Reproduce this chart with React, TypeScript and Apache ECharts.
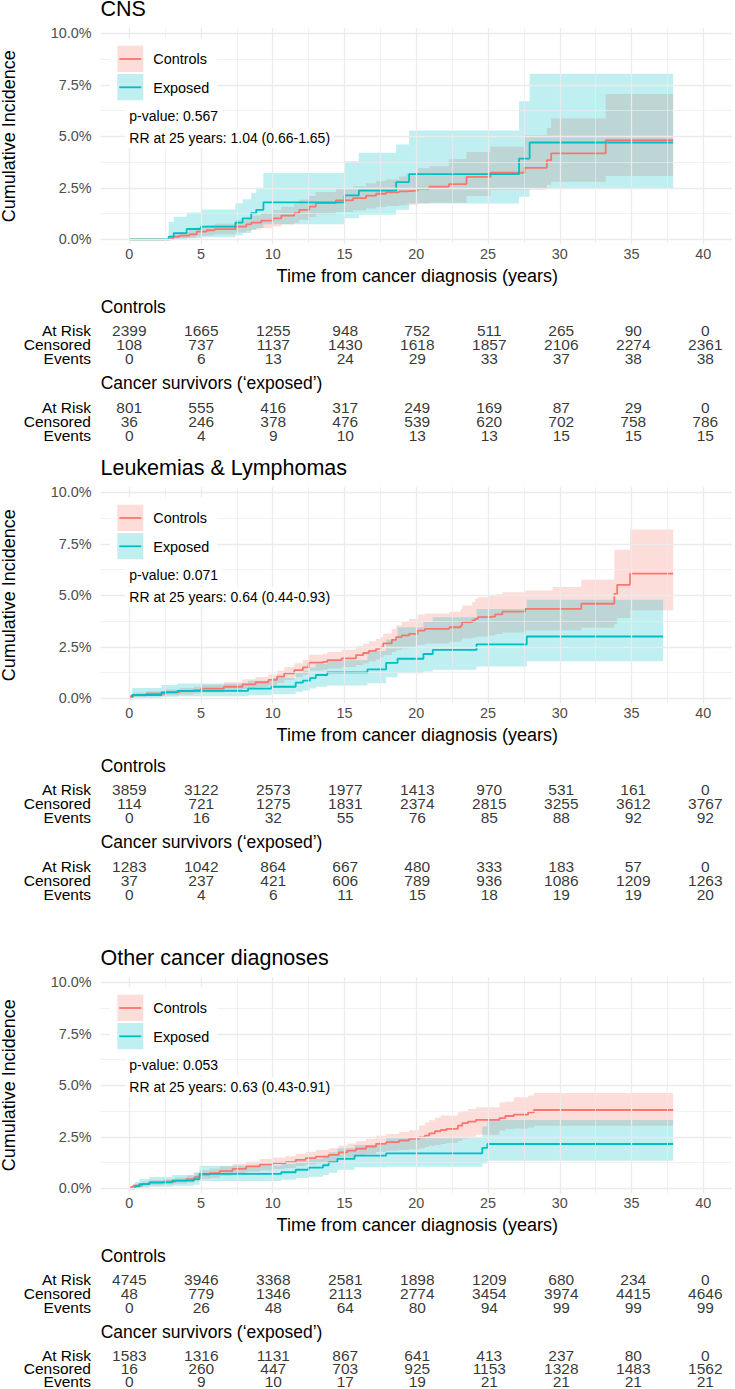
import { useEffect, useRef } from 'react';
import * as echarts from 'echarts';

// ---------- axes ----------
const timeTicks = [0, 5, 10, 15, 20, 25, 30, 35, 40];
const timeMinor = [2.5, 7.5, 12.5, 17.5, 22.5, 27.5, 32.5, 37.5];
const pctTicks = [0, 2.5, 5, 7.5, 10];
const pctMinor = [1.25, 3.75, 6.25, 8.75];
const riskRows = ['At Risk', 'Censored', 'Events'];
const riskTimes = [0, 5, 10, 15, 20, 25, 30, 35, 40];

// ---------- CNS ----------
const cnsCtrlTime = [0, 2.9, 3.1, 3.5, 4.2, 4.7, 5.4, 5.95, 7.4, 8.15, 8.5, 9.2, 10.0, 10.6, 11.5, 11.85, 12.55, 13.0, 14.4, 15.6, 16.5, 17.2, 17.9, 18.8, 19.3, 20.1, 20.9, 22.27, 23.5, 25.17, 27.55, 29.1, 29.4, 33.2, 37.9];
const cnsCtrlEst = [0, 0.06, 0.13, 0.18, 0.24, 0.37, 0.44, 0.49, 0.62, 0.72, 0.81, 0.91, 1.02, 1.15, 1.27, 1.43, 1.59, 1.76, 1.89, 2.0, 2.12, 2.21, 2.28, 2.33, 2.36, 2.45, 2.55, 2.68, 3.03, 3.23, 3.47, 3.84, 4.17, 4.81, 4.81];
const cnsCtrlLow = [0, 0, 0.02, 0.05, 0.08, 0.16, 0.2, 0.24, 0.33, 0.4, 0.47, 0.54, 0.62, 0.72, 0.82, 0.95, 1.08, 1.22, 1.32, 1.41, 1.5, 1.57, 1.62, 1.65, 1.68, 1.74, 1.77, 1.77, 2.1, 2.39, 2.4, 2.65, 2.79, 3.07, 3.07];
const cnsCtrlHigh = [0, 0.15, 0.3, 0.36, 0.44, 0.6, 0.68, 0.75, 0.92, 1.04, 1.15, 1.28, 1.42, 1.58, 1.72, 1.92, 2.1, 2.3, 2.45, 2.58, 2.72, 2.83, 2.9, 3.05, 3.2, 3.45, 3.55, 3.9, 4.24, 4.49, 5.05, 5.4, 5.86, 7.05, 7.05];

const cnsExpTime = [0, 2.75, 3.1, 4.0, 5.0, 7.4, 7.9, 8.5, 8.85, 9.35, 15.0, 16.0, 18.6, 19.5, 27.16, 27.9, 37.9];
const cnsExpEst = [0, 0.13, 0.3, 0.5, 0.62, 0.81, 1.02, 1.27, 1.43, 1.79, 2.13, 2.37, 2.78, 3.16, 3.92, 4.7, 4.7];
const cnsExpLow = [0, 0, 0, 0.05, 0.1, 0.2, 0.3, 0.45, 0.55, 0.73, 1.02, 1.19, 1.43, 1.74, 2.06, 2.47, 2.47];
const cnsExpHigh = [0, 0.85, 1.1, 1.3, 1.45, 1.75, 1.95, 2.25, 2.5, 3.22, 3.79, 4.2, 4.6, 5.28, 6.7, 8.04, 8.04];

const cnsCtrlAtRisk = [2399, 1665, 1255, 948, 752, 511, 265, 90, 0];
const cnsCtrlCensored = [108, 737, 1137, 1430, 1618, 1857, 2106, 2274, 2361];
const cnsCtrlEvents = [0, 6, 13, 24, 29, 33, 37, 38, 38];
const cnsExpAtRisk = [801, 555, 416, 317, 249, 169, 87, 29, 0];
const cnsExpCensored = [36, 246, 378, 476, 539, 620, 702, 758, 786];
const cnsExpEvents = [0, 4, 9, 10, 13, 13, 15, 15, 15];

// ---------- Leukemias & Lymphomas ----------
const leuCtrlTime = [0, 0.1, 0.3, 1.2, 2.5, 3.5, 4.5, 5.0, 6.6, 7.9, 8.8, 9.7, 10.3, 10.8, 11.5, 12.1, 12.5, 13.5, 13.8, 14.8, 15.8, 16.3, 16.7, 17.2, 17.5, 17.7, 18.3, 18.6, 19.0, 19.5, 20.1, 20.6, 22.3, 23.1, 23.2, 23.9, 24.1, 24.3, 25.0, 25.5, 26.0, 27.6, 29.5, 31.5, 33.8, 34.0, 34.9, 37.9];
const leuCtrlEst = [0, 0.1, 0.16, 0.22, 0.3, 0.35, 0.4, 0.47, 0.56, 0.68, 0.78, 0.89, 1.05, 1.21, 1.37, 1.5, 1.73, 1.77, 1.85, 1.94, 2.1, 2.2, 2.3, 2.4, 2.48, 2.67, 2.84, 2.97, 3.05, 3.13, 3.29, 3.37, 3.45, 3.53, 3.7, 3.78, 3.86, 3.94, 3.97, 4.07, 4.21, 4.34, 4.34, 4.59, 5.07, 5.51, 6.05, 6.05];
const leuCtrlLow = [0, 0.02, 0.06, 0.1, 0.15, 0.2, 0.24, 0.28, 0.35, 0.45, 0.54, 0.62, 0.76, 0.9, 1.03, 1.14, 1.35, 1.38, 1.45, 1.52, 1.62, 1.7, 1.8, 1.9, 2.0, 2.1, 2.25, 2.35, 2.42, 2.5, 2.6, 2.66, 2.75, 2.82, 2.9, 2.94, 2.97, 3.0, 3.05, 3.12, 3.2, 3.29, 3.3, 3.42, 3.61, 3.9, 4.27, 4.27];
const leuCtrlHigh = [0.1, 0.2, 0.28, 0.34, 0.44, 0.5, 0.56, 0.66, 0.78, 0.92, 1.04, 1.16, 1.34, 1.52, 1.7, 1.86, 2.12, 2.16, 2.25, 2.36, 2.54, 2.65, 2.77, 2.88, 2.98, 3.15, 3.37, 3.55, 3.7, 3.85, 4.07, 4.12, 4.2, 4.34, 4.5, 4.67, 4.83, 4.9, 4.99, 5.05, 5.15, 5.23, 5.4, 5.75, 7.21, 7.21, 8.2, 8.2];

const leuExpTime = [0, 0.2, 2.25, 3.35, 8.28, 9.9, 11.6, 12.1, 12.6, 13.0, 13.8, 16.6, 17.9, 18.7, 20.5, 21.15, 24.2, 27.7, 37.2];
const leuExpEst = [0, 0.16, 0.29, 0.36, 0.47, 0.56, 0.76, 0.86, 0.98, 1.13, 1.26, 1.4, 1.72, 1.92, 2.15, 2.35, 2.62, 3.0, 3.0];
const leuExpLow = [0, 0.02, 0.08, 0.1, 0.15, 0.2, 0.32, 0.38, 0.48, 0.56, 0.62, 0.73, 1.02, 1.22, 1.3, 1.38, 1.54, 1.8, 1.8];
const leuExpHigh = [0, 0.5, 0.65, 0.72, 0.85, 0.98, 1.22, 1.35, 1.5, 1.68, 1.85, 2.3, 2.85, 3.45, 3.7, 3.94, 4.34, 4.78, 4.78];

const leuCtrlAtRisk = [3859, 3122, 2573, 1977, 1413, 970, 531, 161, 0];
const leuCtrlCensored = [114, 721, 1275, 1831, 2374, 2815, 3255, 3612, 3767];
const leuCtrlEvents = [0, 16, 32, 55, 76, 85, 88, 92, 92];
const leuExpAtRisk = [1283, 1042, 864, 667, 480, 333, 183, 57, 0];
const leuExpCensored = [37, 237, 421, 606, 789, 936, 1086, 1209, 1263];
const leuExpEvents = [0, 4, 6, 11, 15, 18, 19, 19, 20];

// ---------- Other cancer diagnoses ----------
const othCtrlTime = [0, 0.1, 0.28, 0.9, 1.4, 2.4, 3.2, 4.0, 4.55, 4.9, 5.6, 6.3, 7.2, 8.15, 9.1, 10.0, 10.9, 11.6, 12.3, 13.0, 13.9, 14.6, 15.2, 15.8, 16.5, 17.2, 17.9, 18.8, 19.5, 20.2, 20.6, 20.9, 21.3, 21.7, 22.1, 22.9, 23.2, 23.6, 24.15, 25.8, 26.2, 26.8, 27.8, 28.2, 37.9];
const othCtrlEst = [0, 0.05, 0.13, 0.21, 0.28, 0.32, 0.37, 0.45, 0.54, 0.67, 0.73, 0.83, 0.94, 1.06, 1.15, 1.22, 1.27, 1.38, 1.46, 1.54, 1.62, 1.74, 1.83, 1.92, 2.03, 2.16, 2.24, 2.32, 2.4, 2.47, 2.56, 2.67, 2.77, 2.83, 2.88, 3.04, 3.16, 3.24, 3.32, 3.41, 3.51, 3.58, 3.69, 3.8, 3.8];
const othCtrlLow = [0, 0.01, 0.05, 0.1, 0.15, 0.18, 0.22, 0.28, 0.35, 0.46, 0.51, 0.6, 0.7, 0.8, 0.88, 0.94, 0.99, 1.08, 1.15, 1.22, 1.29, 1.4, 1.48, 1.56, 1.66, 1.76, 1.82, 1.86, 1.9, 1.95, 2.0, 2.07, 2.1, 2.15, 2.2, 2.3, 2.4, 2.5, 2.6, 2.8, 2.88, 2.9, 2.95, 3.04, 3.04];
const othCtrlHigh = [0.05, 0.1, 0.22, 0.32, 0.4, 0.45, 0.52, 0.62, 0.72, 0.88, 0.95, 1.06, 1.18, 1.3, 1.42, 1.5, 1.56, 1.68, 1.77, 1.86, 1.95, 2.08, 2.18, 2.28, 2.4, 2.55, 2.64, 2.73, 2.82, 3.05, 3.2, 3.3, 3.42, 3.53, 3.53, 3.69, 3.75, 3.85, 3.93, 4.17, 4.2, 4.42, 4.5, 4.63, 4.63];

const othExpTime = [0, 0.4, 0.7, 1.4, 3.0, 4.5, 4.9, 10.6, 11.6, 12.5, 13.5, 13.9, 14.5, 15.7, 17.9, 24.6, 24.95, 37.9];
const othExpEst = [0, 0.1, 0.2, 0.29, 0.37, 0.45, 0.7, 0.78, 0.9, 1.0, 1.12, 1.27, 1.43, 1.59, 1.7, 1.96, 2.15, 2.15];
const othExpLow = [0, 0, 0.03, 0.08, 0.12, 0.17, 0.35, 0.42, 0.5, 0.56, 0.65, 0.76, 0.9, 1.02, 1.05, 1.2, 1.34, 1.34];
const othExpHigh = [0, 0.3, 0.45, 0.55, 0.65, 0.78, 1.1, 1.18, 1.32, 1.44, 1.58, 1.75, 1.95, 2.1, 2.45, 3.0, 3.32, 3.32];

const othCtrlAtRisk = [4745, 3946, 3368, 2581, 1898, 1209, 680, 234, 0];
const othCtrlCensored = [48, 779, 1346, 2113, 2774, 3454, 3974, 4415, 4646];
const othCtrlEvents = [0, 26, 48, 64, 80, 94, 99, 99, 99];
const othExpAtRisk = [1583, 1316, 1131, 867, 641, 413, 237, 80, 0];
const othExpCensored = [16, 260, 447, 703, 925, 1153, 1328, 1483, 1562];
const othExpEvents = [0, 9, 10, 17, 19, 21, 21, 21, 21];

const panels = [
  {
    title: 'CNS', pValue: '0.567', rr: '1.04 (0.66-1.65)',
    ctrl: { time: cnsCtrlTime, est: cnsCtrlEst, low: cnsCtrlLow, high: cnsCtrlHigh },
    exp: { time: cnsExpTime, est: cnsExpEst, low: cnsExpLow, high: cnsExpHigh },
    ctrlTable: [cnsCtrlAtRisk, cnsCtrlCensored, cnsCtrlEvents],
    expTable: [cnsExpAtRisk, cnsExpCensored, cnsExpEvents],
  },
  {
    title: 'Leukemias & Lymphomas', pValue: '0.071', rr: '0.64 (0.44-0.93)',
    ctrl: { time: leuCtrlTime, est: leuCtrlEst, low: leuCtrlLow, high: leuCtrlHigh },
    exp: { time: leuExpTime, est: leuExpEst, low: leuExpLow, high: leuExpHigh },
    ctrlTable: [leuCtrlAtRisk, leuCtrlCensored, leuCtrlEvents],
    expTable: [leuExpAtRisk, leuExpCensored, leuExpEvents],
  },
  {
    title: 'Other cancer diagnoses', pValue: '0.053', rr: '0.63 (0.43-0.91)',
    ctrl: { time: othCtrlTime, est: othCtrlEst, low: othCtrlLow, high: othCtrlHigh },
    exp: { time: othExpTime, est: othExpEst, low: othExpLow, high: othExpHigh },
    ctrlTable: [othCtrlAtRisk, othCtrlCensored, othCtrlEvents],
    expTable: [othExpAtRisk, othExpCensored, othExpEvents],
  },
];

// ---------- styling / layout ----------
const W = 735;
const H = 1389;
const FONT = '"Liberation Sans", Arial, Helvetica, sans-serif';
const RED = '#F8766D';
const TEAL = '#00BFC4';
const RED_FILL = 'rgba(248,118,109,0.25)';
const TEAL_FILL = 'rgba(0,191,196,0.25)';
const GRID_COLOR = '#EBEBEB';

const PANEL_SHIFT = [0, 459, 949];
const PLOT_LEFT = 100.5;
const PLOT_WIDTH = 633.6;
const X_MIN = -2;
const X_MAX = 42;
const Y_MIN = -0.25;
const Y_MAX = 10.25;
const PX_PER_PCT = 20.6;
const Y10_PX = 33.3; // pixel row of the 10% line in the first panel
const PLOT_TOP = Y10_PX - (Y_MAX - 10) * PX_PER_PCT;
const PLOT_HEIGHT = (Y_MAX - Y_MIN) * PX_PER_PCT;
const ROW_H = 14;

const near = (v: number, list: number[]) => list.some((t) => Math.abs(v - t) < 1e-6);

function bandSeries(curve: any, fill: string, axis: number) {
  return {
    type: 'custom',
    xAxisIndex: axis,
    yAxisIndex: axis,
    silent: true,
    clip: false,
    data: [[curve.time[0], curve.low[0]]],
    renderItem: (_params: any, api: any) => {
      const n = curve.time.length;
      const pts: number[][] = [];
      for (let i = 0; i < n - 1; i++) {
        pts.push(api.coord([curve.time[i], curve.high[i]]));
        pts.push(api.coord([curve.time[i + 1], curve.high[i]]));
      }
      for (let i = n - 2; i >= 0; i--) {
        pts.push(api.coord([curve.time[i + 1], curve.low[i]]));
        pts.push(api.coord([curve.time[i], curve.low[i]]));
      }
      return { type: 'polygon', shape: { points: pts }, style: { fill, stroke: 'none' } };
    },
  };
}

function stepSeries(curve: any, color: string, axis: number) {
  return {
    type: 'line',
    xAxisIndex: axis,
    yAxisIndex: axis,
    step: 'end',
    silent: true,
    showSymbol: false,
    symbol: 'none',
    data: curve.time.map((t: number, i: number) => [t, curve.est[i]]),
    lineStyle: { color, width: 1.8 },
  };
}

function gridLineSeries(axis: number) {
  const major = { width: 1.3 };
  const minor = { width: 0.7 };
  return {
    type: 'line',
    xAxisIndex: axis,
    yAxisIndex: axis,
    silent: true,
    showSymbol: false,
    data: [[0, 0]],
    lineStyle: { opacity: 0 },
    markLine: {
      silent: true,
      symbol: ['none', 'none'],
      label: { show: false },
      lineStyle: { color: GRID_COLOR, type: 'solid' },
      emphasis: { disabled: true },
      data: [
        ...timeMinor.map((v) => ({ xAxis: v, lineStyle: minor })),
        ...pctMinor.map((v) => ({ yAxis: v, lineStyle: minor })),
        ...timeTicks.map((v) => ({ xAxis: v, lineStyle: major })),
        ...pctTicks.map((v) => ({ yAxis: v, lineStyle: major })),
      ],
    },
  };
}

function tableSeries(rows: number[][], axis: number) {
  const data: number[][] = [];
  rows.forEach((row, r) => row.forEach((v, i) => data.push([riskTimes[i], r, v])));
  return {
    type: 'scatter',
    xAxisIndex: axis,
    yAxisIndex: axis,
    silent: true,
    symbolSize: 0,
    itemStyle: { color: 'rgba(0,0,0,0)' },
    data,
    label: {
      show: true,
      position: 'inside',
      formatter: (p: any) => String(p.value[2]),
      fontFamily: FONT,
      fontSize: 15.5,
      lineHeight: 13,
      color: '#000',
    },
  };
}

function text(x: number, y: number, s: string, size: number, extra: any = {}) {
  const style: any = {
    text: s,
    fontFamily: FONT,
    fontSize: size,
    lineHeight: extra.lineHeight || size,
    fill: extra.fill || '#000',
    align: extra.align || 'left',
    verticalAlign: 'middle',
  };
  if (extra.box) {
    style.backgroundColor = '#ffffff';
    style.padding = extra.box;
  }
  return {
    type: 'text',
    x,
    y,
    z: 20,
    silent: true,
    style,
    rotation: extra.rotation || 0,
  };
}

function buildOption() {
  const grid: any[] = [];
  const xAxis: any[] = [];
  const yAxis: any[] = [];
  const series: any[] = [];
  const graphic: any[] = [];

  panels.forEach((p, k) => {
    const off = PANEL_SHIFT[k];
    const plotAxis = grid.length;

    // plot area
    grid.push({ left: PLOT_LEFT, width: PLOT_WIDTH, top: PLOT_TOP + off, height: PLOT_HEIGHT });
    xAxis.push({
      type: 'value', gridIndex: plotAxis, min: X_MIN, max: X_MAX, interval: 1,
      axisLine: { show: false }, axisTick: { show: false }, splitLine: { show: false },
      axisLabel: {
        margin: 3, color: '#4D4D4D', fontFamily: FONT, fontSize: 14.4, lineHeight: 14,
        formatter: (v: number) => (near(v, timeTicks) ? String(Math.round(v)) : ''),
      },
    });
    yAxis.push({
      type: 'value', gridIndex: plotAxis, min: Y_MIN, max: Y_MAX, interval: 0.25,
      axisLine: { show: false }, axisTick: { show: false }, splitLine: { show: false },
      axisLabel: {
        margin: 9, color: '#4D4D4D', fontFamily: FONT, fontSize: 14.4, lineHeight: 14,
        formatter: (v: number) => (near(v, pctTicks) ? v.toFixed(1) + '%' : ''),
      },
    });
    series.push(gridLineSeries(plotAxis));
    series.push(bandSeries(p.ctrl, RED_FILL, plotAxis));
    series.push(bandSeries(p.exp, TEAL_FILL, plotAxis));
    series.push(stepSeries(p.ctrl, RED, plotAxis));
    series.push(stepSeries(p.exp, TEAL, plotAxis));

    // risk tables
    const tableTops = [330 - ROW_H / 2 + off, 407.5 - ROW_H / 2 + off];
    [p.ctrlTable, p.expTable].forEach((rows, g) => {
      const ax = grid.length;
      grid.push({ left: PLOT_LEFT, width: PLOT_WIDTH, top: tableTops[g], height: ROW_H * 3 });
      xAxis.push({ type: 'value', gridIndex: ax, min: X_MIN, max: X_MAX, show: false });
      yAxis.push({
        type: 'category', gridIndex: ax, data: riskRows, inverse: true,
        axisLine: { show: false }, axisTick: { show: false }, splitLine: { show: false },
        axisLabel: {
          interval: 0, margin: 9.5, color: '#000', fontFamily: FONT, fontSize: 15.5, lineHeight: 13,
        },
      });
      series.push(tableSeries(rows, ax));
    });

    // legend (white box behind keys and labels)
    graphic.push({
      type: 'rect', z: 15, silent: true,
      shape: { x: 110, y: 38.5 + off, width: 107, height: 69 },
      style: { fill: '#ffffff' },
    });
    const keys = [
      { label: 'Controls', fill: RED_FILL, color: RED, top: 45.7 },
      { label: 'Exposed', fill: TEAL_FILL, color: TEAL, top: 74.0 },
    ];
    keys.forEach((kk) => {
      graphic.push({
        type: 'rect', z: 16, silent: true,
        shape: { x: 117.3, y: kk.top + off, width: 26, height: 26.3 },
        style: { fill: kk.fill },
      });
      graphic.push({
        type: 'line', z: 17, silent: true,
        shape: { x1: 119.3, y1: kk.top + 13.3 + off, x2: 141.3, y2: kk.top + 13.3 + off },
        style: { stroke: kk.color, lineWidth: 1.8 },
      });
      graphic.push(text(153.3, kk.top + 13.5 + off, kk.label, 14.4));
    });

    // annotation labels on white boxes
    graphic.push(text(125.3, 116 + off, 'p-value: ' + p.pValue, 14, { box: [3, 4] }));
    graphic.push(text(125.3, 138.3 + off, 'RR at 25 years: ' + p.rr, 14, { box: [3, 4] }));

    // titles
    graphic.push(text(100.5, 8.6 + off, p.title, 21.5, { lineHeight: 16 }));
    graphic.push(text(8.6, 136.3 + off, 'Cumulative Incidence', 18, { align: 'center', rotation: Math.PI / 2, lineHeight: 16 }));
    graphic.push(text(417.3, 276 + off, 'Time from cancer diagnosis (years)', 18, { align: 'center' }));
    graphic.push(text(100.7, 306.7 + off, 'Controls', 17.5));
    graphic.push(text(100.7, 383.2 + off, 'Cancer survivors (\u2018exposed\u2019)', 17.5));
  });

  return {
    animation: false,
    backgroundColor: '#ffffff',
    textStyle: { fontFamily: FONT },
    grid,
    xAxis,
    yAxis,
    series,
    graphic,
  };
}

export default function App() {
  const ref = useRef<HTMLDivElement>(null);
  useEffect(() => {
    if (!ref.current) return;
    const chart = echarts.init(ref.current, null, { renderer: 'svg' });
    chart.setOption(buildOption() as any);
    return () => chart.dispose();
  }, []);
  return (
    <div
      ref={ref}
      style={{ position: 'absolute', left: 0, top: 0, width: W, height: H, background: '#fff' }}
    />
  );
}
